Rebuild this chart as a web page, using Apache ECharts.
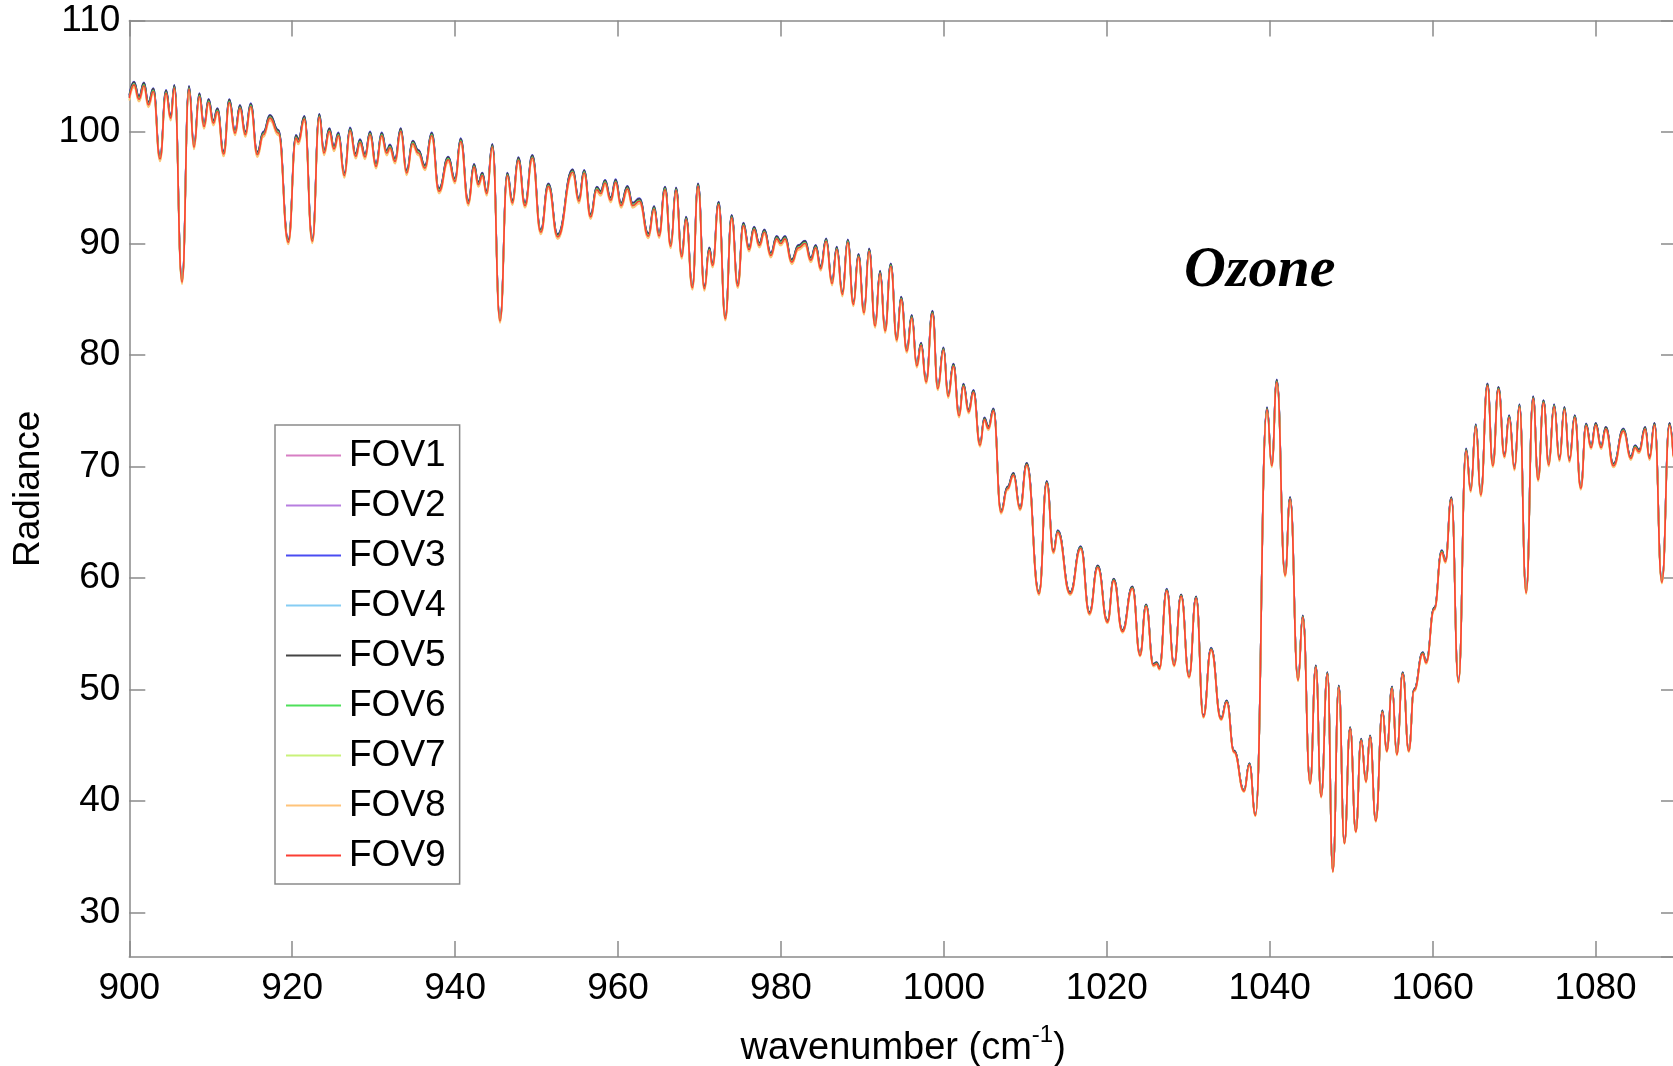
<!DOCTYPE html>
<html>
<head>
<meta charset="utf-8">
<title>FOV radiance spectra, 900–1090 cm-1</title>
<script src="https://cdn.jsdelivr.net/npm/echarts@6/dist/echarts.min.js"></script>
<style>
  html, body { margin: 0; padding: 0; background: #ffffff; }
  #chart { width: 1673px; height: 1066px; }
</style>
</head>
<body>
<div id="chart"></div>
<script>
// Spectral sample positions (cm^-1): the local maxima, minima and shoulders of the spectrum
const wavenumber = [
  900.00, 900.58, 901.19, 901.80, 902.34, 902.95, 903.77, 904.51, 905.08, 905.53,
  906.47, 907.33, 907.94, 908.60, 909.17, 909.74, 910.32, 910.81, 911.59, 912.28,
  912.98, 913.59, 914.25, 914.90, 915.72, 916.46, 917.27, 918.30, 919.52, 920.47,
  920.75, 921.49, 922.47, 923.33, 923.90, 924.56, 925.13, 925.67, 926.40, 927.10,
  927.79, 928.32, 928.94, 929.55, 930.29, 930.98, 931.60, 932.00, 932.62, 933.32,
  934.05, 934.79, 935.49, 936.30, 937.12, 938.02, 939.16, 939.98, 940.68, 941.62,
  942.32, 942.85, 943.34, 943.88, 944.57, 945.51, 946.41, 947.03, 947.76, 948.58,
  949.48, 950.51, 951.45, 952.59, 954.43, 955.20, 955.83, 956.64, 957.38, 957.87,
  958.40, 959.10, 959.71, 960.37, 961.15, 961.80, 962.62, 963.73, 964.42, 965.03,
  965.77, 966.47, 967.12, 967.82, 968.35, 969.13, 969.82, 970.60, 971.20, 971.61,
  972.35, 973.17, 973.95, 974.69, 975.39, 976.08, 976.70, 977.35, 977.97, 978.75,
  979.48, 979.97, 980.50, 981.32, 982.14, 982.96, 983.66, 984.27, 984.88, 985.54,
  986.27, 986.85, 987.54, 988.20, 988.89, 989.51, 990.20, 990.82, 991.56, 992.17,
  992.78, 993.48, 994.22, 994.75, 995.45, 996.06, 996.67, 997.20, 997.82, 998.60,
  999.25, 999.95, 1000.52, 1001.17, 1001.87, 1002.40, 1003.05, 1003.62, 1004.44, 1004.97,
  1005.47, 1006.08, 1007.02, 1007.80, 1008.54, 1009.35, 1010.17, 1011.68, 1012.63, 1013.45,
  1013.98, 1015.50, 1016.80, 1017.87, 1018.89, 1020.08, 1020.85, 1021.92, 1023.14, 1024.08,
  1024.82, 1025.72, 1026.13, 1026.46, 1027.36, 1028.26, 1029.12, 1030.10, 1030.96, 1031.86,
  1032.80, 1034.03, 1034.72, 1035.62, 1036.85, 1037.50, 1038.25, 1039.67, 1040.25, 1040.87,
  1041.89, 1042.50, 1043.48, 1044.06, 1044.96, 1045.66, 1046.31, 1047.09, 1047.75, 1048.48,
  1049.17, 1049.87, 1050.57, 1051.22, 1051.83, 1052.32, 1053.02, 1053.84, 1054.37, 1055.02,
  1055.60, 1056.33, 1057.07, 1057.73, 1058.79, 1059.20, 1060.20, 1061.12, 1061.57, 1062.30,
  1063.17, 1064.11, 1064.68, 1065.30, 1065.91, 1066.73, 1067.39, 1068.08, 1068.82, 1069.40,
  1070.05, 1070.66, 1071.48, 1072.34, 1072.95, 1073.61, 1074.26, 1074.91, 1075.57, 1076.18,
  1076.79, 1077.45, 1078.19, 1078.84, 1079.45, 1080.03, 1080.68, 1081.26, 1082.20, 1083.43,
  1084.33, 1084.86, 1085.35, 1086.09, 1086.62, 1087.24, 1088.14, 1089.08, 1089.53
];

// FOV9 radiance at each wavenumber above
const radiance = [
  103.04, 104.23, 102.95, 104.15, 102.44, 103.64, 97.58, 103.49, 101.25, 103.94,
  86.54, 103.85, 98.65, 103.19, 100.50, 102.68, 100.80, 101.85, 98.03, 102.65,
  99.91, 102.15, 99.76, 102.29, 97.97, 99.76, 101.25, 99.91, 90.12, 99.46,
  99.10, 101.16, 90.21, 101.34, 98.12, 100.06, 98.48, 99.67, 96.09, 100.12,
  97.82, 99.07, 97.77, 99.76, 96.92, 99.67, 98.10, 98.60, 97.37, 100.06,
  96.33, 98.95, 98.12, 96.77, 99.67, 94.69, 97.52, 95.58, 99.16, 93.58,
  96.86, 95.28, 96.09, 94.48, 98.65, 83.05, 96.09, 93.64, 97.46, 93.40,
  97.67, 91.01, 95.13, 90.60, 96.39, 93.79, 96.33, 92.39, 94.83, 94.47,
  95.43, 93.88, 95.49, 93.40, 94.89, 93.40, 93.79, 90.66, 93.10, 90.69,
  94.83, 89.76, 94.77, 88.81, 92.15, 86.03, 95.13, 85.94, 89.40, 88.03,
  93.49, 83.26, 92.30, 86.18, 91.61, 89.46, 91.25, 89.82, 91.01, 88.93,
  90.42, 90.00, 90.42, 88.33, 89.61, 90.00, 88.51, 89.61, 87.73, 90.21,
  86.42, 89.46, 85.43, 90.12, 84.54, 88.81, 83.79, 89.31, 82.60, 87.31,
  82.15, 87.97, 81.35, 84.99, 80.36, 83.35, 79.02, 80.87, 77.59, 83.73,
  76.99, 80.45, 76.30, 79.00, 74.55, 77.20, 74.90, 76.65, 71.92, 74.18,
  73.41, 74.99, 65.89, 68.00, 69.23, 66.19, 70.13, 58.58, 68.51, 62.31,
  64.10, 58.58, 62.67, 56.79, 60.96, 56.04, 59.77, 55.20, 59.08, 53.06,
  57.47, 52.16, 52.31, 51.86, 58.87, 52.16, 58.37, 51.12, 58.19, 47.54,
  53.59, 47.33, 48.88, 44.40, 40.88, 43.27, 38.70, 75.10, 70.07, 77.58,
  60.22, 67.08, 50.82, 56.49, 41.57, 52.01, 40.37, 51.41, 33.66, 50.22,
  36.20, 46.49, 37.24, 45.45, 41.72, 45.75, 38.20, 47.98, 44.46, 50.13,
  44.16, 51.41, 44.46, 49.92, 53.20, 52.40, 57.20, 62.31, 61.47, 67.07,
  50.67, 71.41, 67.83, 73.59, 67.44, 77.23, 70.07, 76.93, 70.90, 74.39,
  69.77, 75.38, 58.67, 76.09, 68.81, 75.74, 70.13, 75.38, 70.60, 75.14,
  70.51, 74.39, 68.04, 73.65, 71.71, 73.71, 71.71, 73.35, 70.07, 73.20,
  70.72, 71.71, 71.32, 73.35, 70.72, 73.71, 59.62, 73.71, 70.96
];

// Detector fields of view, their line colours and radiometric gain relative to FOV9
const fovNames  = ['FOV1', 'FOV2', 'FOV3', 'FOV4', 'FOV5', 'FOV6', 'FOV7', 'FOV8', 'FOV9'];
const fovColors = ['#d77fc4', '#b77ee0', '#4a4cf2', '#86cdf4', '#454545', '#4ee05a', '#c9f27a', '#ffc47a', '#fb3f33'];
const fovGain   = [1.0015, 1.0020, 1.0030, 1.0010, 1.0025, 1.0008, 0.9985, 0.9978, 1.0000];

// Axis extents (cm^-1 and radiance units)
const xRange = [900, 1090];
const yRange = [26, 110];

const FONT = '"Liberation Sans", Arial, Helvetica, sans-serif';
const AXIS_GREY = '#8a8a8a';

const chart = echarts.init(document.getElementById('chart'), null, { renderer: 'canvas' });

const series = fovNames.map((name, k) => ({
  name,
  type: 'line',
  xAxisIndex: 0,
  yAxisIndex: 0,
  showSymbol: false,
  symbol: 'none',
  smooth: 0.5,
  smoothMonotone: 'x',
  clip: true,
  lineStyle: { color: fovColors[k], width: 1.6 },
  itemStyle: { color: fovColors[k] },
  emphasis: { disabled: true },
  data: wavenumber.map((w, i) => [w, +(radiance[i] * fovGain[k]).toFixed(3)]),
  z: 2 + k
}));

const frameLine = { show: true, lineStyle: { color: AXIS_GREY, width: 1.5 } };
const frameTick = { show: true, inside: true, length: 16, lineStyle: { color: AXIS_GREY, width: 1.5 } };
const plainNumber = v => String(v);

chart.setOption({
  backgroundColor: '#ffffff',
  animation: false,
  grid: {
    left: 129.3, right: -4, top: 20.6, bottom: 109,
    containLabel: false,
    outerBoundsMode: 'none'
  },
  legend: {
    show: true,
    data: fovNames,
    orient: 'vertical',
    left: 275,
    top: 425,
    backgroundColor: '#ffffff',
    borderColor: AXIS_GREY,
    borderWidth: 1.5,
    borderRadius: 0,
    padding: [12, 14, 10, 11],
    icon: 'rect',
    itemWidth: 55,
    itemHeight: 2,
    itemGap: 13,
    selectedMode: false,
    textStyle: { fontFamily: FONT, fontSize: 37, lineHeight: 36, color: '#000000', padding: [0, 0, 0, 3] }
  },
  xAxis: [
    {
      type: 'value',
      position: 'bottom',
      min: xRange[0],
      max: xRange[1],
      interval: 20,
      axisLine: frameLine,
      axisTick: frameTick,
      splitLine: { show: false },
      axisLabel: {
        fontFamily: FONT, fontSize: 37, color: '#000000', margin: 13,
        showMaxLabel: false,
        formatter: plainNumber
      },
      name: '{m|wavenumber (cm}{sup|-1}{m|)}',
      nameLocation: 'middle',
      nameGap: 66,
      nameTextStyle: {
        fontFamily: FONT, fontSize: 38, color: '#000000',
        rich: {
          m: { fontFamily: FONT, fontSize: 38, lineHeight: 52, color: '#000000' },
          sup: { fontFamily: FONT, fontSize: 24, lineHeight: 24, color: '#000000', verticalAlign: 'top' }
        }
      }
    },
    {
      type: 'value',
      position: 'top',
      min: xRange[0],
      max: xRange[1],
      interval: 20,
      axisLine: frameLine,
      axisTick: frameTick,
      axisLabel: { show: false },
      splitLine: { show: false }
    }
  ],
  yAxis: [
    {
      type: 'value',
      position: 'left',
      min: yRange[0],
      max: yRange[1],
      minInterval: 10,
      maxInterval: 10,
      axisLine: frameLine,
      axisTick: frameTick,
      splitLine: { show: false },
      axisLabel: {
        fontFamily: FONT, fontSize: 37, color: '#000000', margin: 9,
        showMinLabel: false,
        formatter: plainNumber
      },
      name: 'Radiance',
      nameLocation: 'middle',
      nameGap: 77,
      nameTextStyle: { fontFamily: FONT, fontSize: 37, color: '#000000' }
    },
    {
      type: 'value',
      position: 'right',
      min: yRange[0],
      max: yRange[1],
      minInterval: 10,
      maxInterval: 10,
      axisLine: frameLine,
      axisTick: frameTick,
      axisLabel: { show: false },
      splitLine: { show: false }
    }
  ],
  graphic: [
    {
      type: 'text',
      left: 1184,
      top: 242,
      z: 50,
      style: {
        text: 'Ozone',
        font: 'italic bold 58px "Liberation Serif", "Times New Roman", serif',
        fill: '#000000'
      }
    }
  ],
  series
});
</script>
</body>
</html>
